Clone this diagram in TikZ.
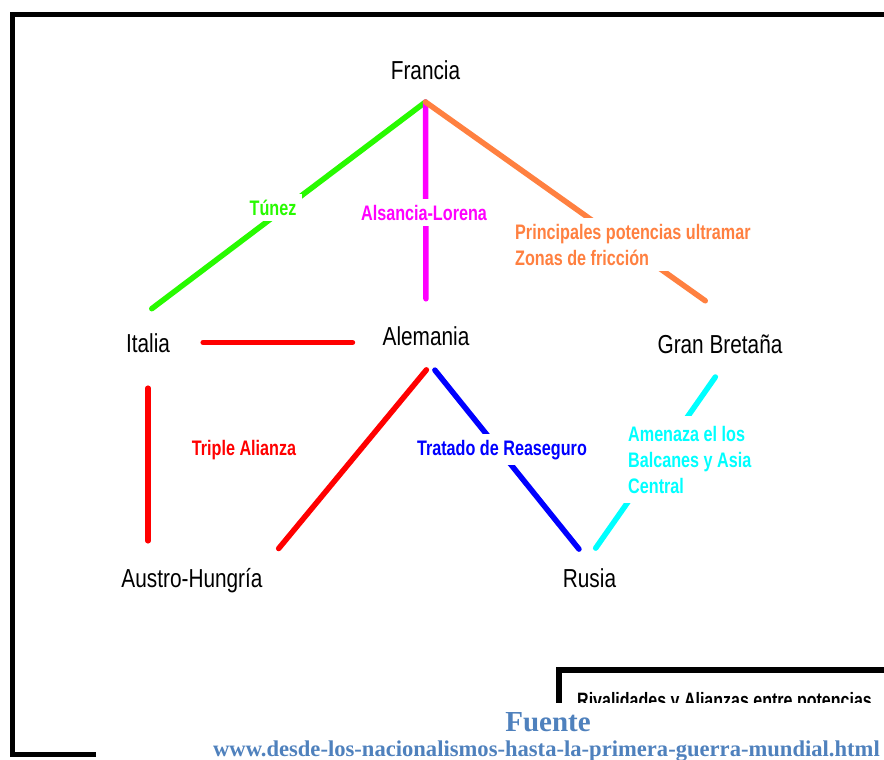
\documentclass[tikz,border=0pt]{standalone}
\usepackage{fontspec}
\setmainfont{Liberation Sans}
\newfontfamily\cityfont{Liberation Sans}[FakeStretch=0.8]
\newfontfamily\labelfont{Liberation Sans}[FakeStretch=0.77]
\newfontfamily\sourcefont{Liberation Serif}
\definecolor{limegreen}{RGB}{40,250,0}
\definecolor{alsacia}{RGB}{255,0,255}
\definecolor{friccion}{RGB}{255,128,64}
\definecolor{balcanes}{RGB}{0,255,255}
\definecolor{alianza}{RGB}{255,0,0}
\definecolor{reaseguro}{RGB}{0,0,255}
\definecolor{sourceblue}{RGB}{79,129,189}

\begin{document}
\begin{tikzpicture}
  [
    x=1pt, y=-1pt,
    country/.style={font=\cityfont\fontsize{26}{30}\selectfont, inner sep=0pt,
      text height=19pt, text depth=0pt, anchor=base},
    rivalry/.style={font=\labelfont\bfseries\fontsize{21}{26}\selectfont,
      fill=white, inner sep=6pt, align=left},
    link/.style={line width=5.5pt, line cap=round}
  ]
  \useasboundingbox[fill=white] (0,0) rectangle (884,760);
  \draw[line width=5pt] (96,754.5) -- (12.5,754.5) -- (12.5,14.5) -- (884,14.5);

  \node[country] (francia) at (425.5,80) {Francia};
  \node[country] (italia) at (148,352) {Italia};
  \node[country] (alemania) at (426,345) {Alemania};
  \node[country] (gran) at (720,353) {Gran Bretaña};
  \node[country] (austro) at (192,587) {Austro-Hungría};
  \node[country] (rusia) at (589.5,587) {Rusia};
  \coordinate (apex) at ([yshift=-22pt]francia.base);

  \draw[link, limegreen, shorten >=40pt] (apex) -- ([xshift=-6pt]italia.north west);
  \draw[link, alsacia, shorten >=27pt] (apex) -- (alemania.north);
  \draw[link, friccion, shorten >=57pt] (apex) -- (gran.17);
  \draw[link, alianza, shorten <=33pt, shorten >=30pt] (italia) -- (italia -| alemania.west);
  \draw[link, alianza, shorten <=36pt, shorten >=27pt] (italia) -- (italia |- austro.north);
  \draw[link, alianza, shorten <=32pt, shorten >=25pt] (alemania.-25) -- (austro.north east);
  \draw[link, reaseguro, shorten <=32pt, shorten >=24pt] (alemania.-139) -- (rusia.65);
  \draw[link, balcanes, shorten <=29pt, shorten >=24pt] (gran.-39) -- (rusia.128);

  \node[rivalry, text=limegreen, anchor=base] (tunez) at (273,215) {Túnez};
  \node[rivalry, text=alsacia, anchor=base] (lorena) at (424,220) {Alsancia-Lorena};
  \node[rivalry, text=friccion, anchor=west] (ultramar) at (509,244.5)
    {Principales potencias ultramar\\Zonas de fricción};
  \node[rivalry, text=alianza, anchor=base] (triple) at (244,455) {Triple Alianza};
  \node[rivalry, text=reaseguro, anchor=base] (tratado) at (502,455) {Tratado de Reaseguro};
  \node[rivalry, text=balcanes, anchor=west, inner sep=10pt] (amenaza) at (618,459.5)
    {Amenaza el los\\Balcanes y Asia\\Central};

  \begin{scope}
    \clip (540,660) rectangle (884,702);
    \draw[line width=6pt] (559,720) -- (559,670) -- (890,670);
    \node[anchor=base west, inner sep=0pt,
      font=\labelfont\bfseries\fontsize{20.8}{24}\selectfont] (titulo) at (577,707)
      {Rivalidades y Alianzas entre potencias};
  \end{scope}

  \node[anchor=base, text=sourceblue, font=\sourcefont\bfseries\fontsize{29}{32}\selectfont]
    (fuente) at (548,731) {Fuente};
  \node[anchor=base, text=sourceblue, font=\sourcefont\bfseries\fontsize{22.6}{26}\selectfont]
    (enlace) at (546.5,756) {www.desde-los-nacionalismos-hasta-la-primera-guerra-mundial.html};
\end{tikzpicture}
\end{document}
